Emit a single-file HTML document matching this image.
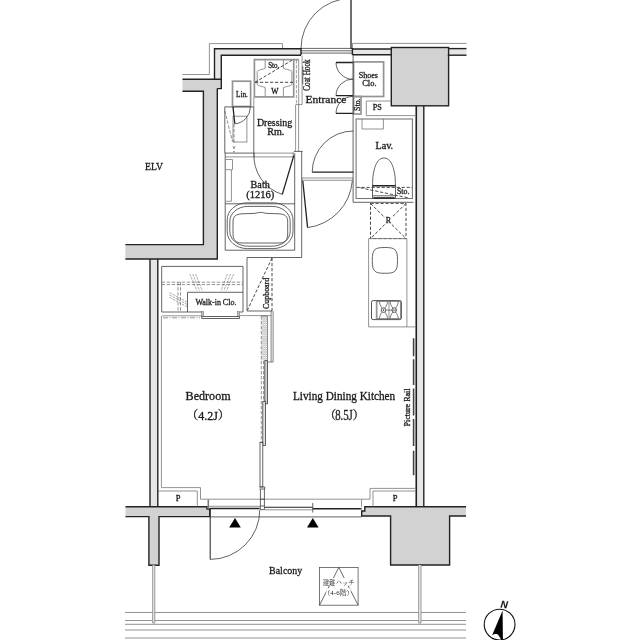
<!DOCTYPE html>
<html lang="ja">
<head>
<meta charset="utf-8">
<title>Floor Plan</title>
<style>
html,body{margin:0;padding:0;background:#fff;}
body{width:640px;height:640px;overflow:hidden;}
svg{display:block;}
svg{filter:grayscale(1);}
text{font-family:"Liberation Serif","Noto Serif CJK SC",serif;fill:#1a1a1a;stroke:#1a1a1a;stroke-width:.3;}
.t{stroke:#3c3c3c;stroke-width:.8;fill:none;}
.tg{stroke:#777;stroke-width:.8;fill:none;}
.G{stroke:#949494;stroke-width:1.7;fill:none;}
.K{stroke:#222;stroke-width:1.4;fill:none;}
.d{stroke:#333;stroke-width:.9;fill:none;stroke-dasharray:3.2 1.8;}
.d2{stroke:#666;stroke-width:.7;fill:none;stroke-dasharray:3.4 1.6;}
.w{fill:#d2d2d2;stroke:none;}
.lw{fill:#e6e6e6;stroke:none;}
</style>
</head>
<body>
<svg width="640" height="640" viewBox="0 0 640 640">
<rect width="640" height="640" fill="#fff"/>

<!-- ===== WALL FILLS ===== -->
<g id="fills">
<path class="lw" d="M214.5,48.8H301V55H221.3V79.2H214.5Z"/>
<path class="lw" d="M352.6,49H391.5V54.8H352.6Z"/>
<path class="lw" d="M447.8,48.6H466.5V55.2H447.8Z"/>
<path class="w" d="M182.5,79.2H221V88.6H217.3V259H125.4V244.6H203.4V91.2H182.5Z"/>
<rect class="w" x="391.3" y="47.5" width="57.3" height="58.3"/>
<rect class="lw" x="417.6" y="106" width="6" height="401"/>
<rect class="lw" x="150" y="259" width="7.8" height="248"/>
<path class="w" d="M125.5,506.7H207V509H209.8V516.6H159V565.3H148.9V516.6H125.5Z"/>
<path class="w" d="M364.8,506.7H466V516H449.6V565H390.6V516H361.7V511H364.8Z"/>
</g>

<!-- ===== WALL OUTLINES ===== -->
<g id="walls">
<path class="tg" d="M182.5,74.5H209.4V43.6H282.5V48.5"/>
<path class="tg" d="M352.5,48.5V43.4H466.5"/>
<path class="K" d="M182.5,79.2H221M214.5,79.2V48.8H301"/>
<path class="K" d="M301,55.2H221.3V88.6H217.3"/>
<path class="K" d="M217.3,88.6V259H125.4M125.4,244.6H203.4V91.2H182.5"/>
<path class="K" d="M352.6,49H391.5"/>
<path class="K" d="M352.6,54.8H391.5"/>
<path class="K" d="M448.6,48.6H466.5"/>
<path class="K" d="M447.8,55.2H466.5"/>
<rect class="K" x="391.3" y="47.5" width="57.3" height="58.3"/>
<path class="K" d="M416.3,106V506.7" style="stroke-width:1.7"/>
<path class="K" d="M423.8,106V506.7" style="stroke-width:1.4"/>
<path class="K" d="M150,259V506.7M157.8,259V506.7"/>
<path class="K" d="M125.5,506.7H207V509H209.8V516.6H159V565.3H148.9V516.6H125.5"/>
<path class="K" d="M466,506.7H364.8V511H361.7V516H390.6V565H449.6V516H466"/>
</g>

<!-- ===== BALCONY ===== -->
<g id="balcony">
<path class="tg" d="M125,612.5H466M125,620.5H466M125,624.3H466M125,630H466M125,638H466"/>
<path stroke="#8a8a8a" stroke-width=".9" fill="#f0f0f0" d="M152.7,565.3V623H154.8V565.3M418.7,565V623H421V565"/>
<path class="K" d="M210.2,508V559.4" style="stroke-width:1"/>
<path class="t" d="M210.2,559.4A49.6,49.6 0 0 0 259.8,509.8"/>
<path d="M229.2,527.4L235,518L240.8,527.4Z" fill="#000"/>
<path d="M307,527.4L312.8,518L318.6,527.4Z" fill="#000"/>
<text x="269.1" y="573.8" font-size="11" textLength="33.1" lengthAdjust="spacingAndGlyphs">Balcony</text>
<rect class="t" x="319.5" y="567.4" width="38.6" height="37.8" style="stroke:#555"/>
<path class="t" d="M319.5,605.2L338.8,567.4L358.1,605.2" style="stroke:#444"/>
<rect x="322" y="578" width="33.4" height="7.6" fill="#fff"/>
<rect x="326.4" y="588.4" width="24.2" height="7.6" fill="#fff"/>
<text x="322.7" y="584.7" font-size="6.5" textLength="32" lengthAdjust="spacingAndGlyphs" style="stroke-width:0;fill:#222">避難ハッチ</text>
<text x="323.4" y="594.9" font-size="6.3" textLength="30.2" lengthAdjust="spacingAndGlyphs" style="stroke-width:0;fill:#222">（4-6階）</text>
</g>

<!-- ===== WINDOW ===== -->
<g id="window">
<path class="tg" d="M200.5,499.2H362"/>
<path class="tg" d="M207.8,506.3H260"/>
<path class="K" d="M210,508.5H259.6"/>
<path class="t" d="M264.5,507.2H312.7" style="stroke:#222;stroke-width:1.1"/>
<path class="tg" d="M264.5,509.8H312.7"/>
<path class="K" d="M312.7,508.8H361.6"/>
<path class="t" d="M210,516.9H361.6"/>
<path class="tg" d="M208.3,499.5V509" style="stroke-width:1.6"/>
<path class="tg" d="M361.5,499.5V507"/>
<path class="t" d="M312.75,503V512.5"/>
</g>

<!-- ===== INTERIOR FINISH LINES ===== -->
<g id="inner">
<path class="tg" d="M161.4,316V487.6H200.5V499.2"/>
<path class="tg" d="M362,499.2H370V488.4H415"/>
<path class="tg" d="M197.3,506.7V491H158M373,506.7V491H415.6"/>
<text x="175.7" y="501.2" font-size="8.5">P</text>
<text x="392.7" y="501.2" font-size="8.5">P</text>
</g>

<!-- ===== ENTRANCE DOOR ===== -->
<g id="entrance">
<path class="K" d="M351,0V49" style="stroke-width:1.3"/>
<path class="t" d="M301,48.4A50,50 0 0 1 351,-1.6"/>
<path class="t" d="M301,48.4H352M301,50.8H352M301,53.1H352"/>
<path class="K" d="M301,48V55M352.4,48V55"/>
<text x="305.5" y="103" font-size="11" textLength="41" lengthAdjust="spacingAndGlyphs">Entrance</text>
<text transform="translate(310,90.8) rotate(-90)" font-size="9.6" textLength="31.5" lengthAdjust="spacingAndGlyphs">Coat Hook</text>
<path stroke="#666" stroke-width="1.2" fill="none" d="M302.7,66.3V84.4"/>
</g>

<!-- ===== SHOES CLO / STO / PS ===== -->
<g id="shoes">
<rect class="G" x="353.6" y="61.9" width="30" height="34.6"/>
<text x="358.7" y="77.8" font-size="8.6" textLength="19.3" lengthAdjust="spacingAndGlyphs">Shoes</text>
<text x="362.2" y="85.9" font-size="8.6" textLength="14.4" lengthAdjust="spacingAndGlyphs">Clo.</text>
<path class="t" d="M336,62.5A17,17 0 0 0 353,79.3M336,95.7A17,17 0 0 1 353,79M336,113.4A17,17 0 0 1 353,96.4"/>
<path class="K" d="M336,62.5H353M336,95.7H353M336,113.4H353" style="stroke-width:1.3"/>
<rect class="G" x="353.6" y="96.5" width="7.4" height="17.5"/>
<text transform="translate(360,111) rotate(-90)" font-size="7.6" textLength="12.6" lengthAdjust="spacingAndGlyphs">Sto.</text>
<path class="tg" d="M391.4,101H366.3V115.6H415.6"/>
<text x="372.7" y="110.3" font-size="8" textLength="9" lengthAdjust="spacingAndGlyphs">PS</text>
</g>

<!-- ===== LAV ===== -->
<g id="lav">
<path class="t" d="M353.1,55V202.3H413.4"/>
<rect class="tg" x="356.1" y="119" width="56.3" height="79.5" style="stroke-width:1.1"/>
<path class="tg" d="M362,118.8V129H383.4V118.8"/>
<text x="375.4" y="149.4" font-size="10.5" textLength="17.8" lengthAdjust="spacingAndGlyphs">Lav.</text>
<path class="t" d="M372.6,185.6C372.4,174 375,158 384,158C393,158 395.6,174 395.4,185.6"/>
<rect class="t" x="372.6" y="185.6" width="22.8" height="12.6"/>
<path class="K" d="M372.6,185.7H395.4M373.5,198H394.6"/>
<path class="t" d="M372.6,195.8H395.4"/>
<path class="d" d="M356.6,187.4H412.4M360.4,187.8L409,198"/>
<text x="397" y="194.4" font-size="7.6" textLength="12.4" lengthAdjust="spacingAndGlyphs">Sto.</text>
<path class="K" d="M312.2,172.2H353.4" style="stroke-width:1.3"/>
<path class="t" d="M312.2,172.2A41.2,41.2 0 0 1 353.4,131"/>
</g>

<!-- ===== HALL DOOR ===== -->
<g id="halldoor">
<path class="tg" d="M302.7,178H352.7M302.7,180.3H352.7"/>
<path class="K" d="M302.8,181L307.6,227.6" style="stroke-width:1.3"/>
<path class="t" d="M352.3,181A51,51 0 0 1 307.6,227.6"/>
<path class="tg" d="M302.5,177.4V181.2M352.6,177.4V181.2" style="stroke-width:.6"/>
</g>

<!-- ===== DRESSING ROOM ===== -->
<g id="dressing">
<path class="tg" d="M298.7,59.6V104.6M296,104.6H302.1V55.5"/>
<path class="tg" d="M295.6,104.6V151.4M298.6,104.6V151.4"/>
<path class="t" d="M293.8,151.4H302.7"/>
<path class="t" d="M301.7,151.4V257.5H247V311"/>
<rect class="G" x="254.4" y="59.6" width="39.3" height="37.3"/>
<path class="G" d="M293.7,59.6H298.9"/>
<path class="d2" d="M296.4,60V104" style="stroke:#777"/>
<path class="tg" d="M265.2,60V68.3C261,70 257.2,70 257.2,72V84C257.2,86 261,86 265.2,87.5V96.5M283.4,60V68.3C287.6,70 291.9,70 291.9,72V84C291.9,86 287.6,86 283.4,87.5V96.5"/>
<path class="d" d="M255,82.3H293M255,82.3L291.9,60.3"/>
<text x="268.2" y="67.8" font-size="7.6" textLength="11.2" lengthAdjust="spacingAndGlyphs">Sto.</text>
<text x="271.2" y="93.6" font-size="7.6" textLength="7.2" lengthAdjust="spacingAndGlyphs">W</text>
<rect class="G" x="232.5" y="81.2" width="18.1" height="25.3"/>
<text x="236" y="96.5" font-size="8" textLength="11.8" lengthAdjust="spacingAndGlyphs">Lin.</text>
<path class="t" d="M253.8,153V106.9H224.8V153"/>
<rect class="tg" x="233" y="116.2" width="13.9" height="25.8"/>
<path class="tg" d="M253.8,97.5V107"/>
<path class="K" d="M233,107L234.8,123.8" style="stroke-width:1.3"/>
<path class="t" d="M250.4,107A17,17 0 0 1 234.8,123.8"/>
<path class="d2" d="M224.8,110.8L232.4,141.3M234,124V143" style="stroke:#5a5a5a"/>
<path stroke="#555" stroke-width=".6" fill="none" d="M233,146L234,149L235,146M233.4,151L234,152.4L234.6,151"/>
<text x="256.9" y="125.6" font-size="10" textLength="35.4" lengthAdjust="spacingAndGlyphs">Dressing</text>
<text x="267.2" y="135.4" font-size="10" textLength="17.2" lengthAdjust="spacingAndGlyphs">Rm.</text>
</g>

<!-- ===== BATH ===== -->
<g id="bath">
<path class="t" d="M225.2,153.1V250.2H294.7V153.1"/>
<path class="t" d="M224.8,153.1H254"/>
<path class="tg" d="M225.2,156.9H294.7M254,153.1H293.4"/>
<path class="t" d="M254,152.4V157.4M293.2,152.4V157.4" style="stroke-width:.6"/>
<path class="t" d="M225.2,203.8H294.7"/>
<path class="tg" d="M225.6,159.5H232.5V169.7H231.4V201.3H225.6"/>
<path class="tg" d="M225.6,169.7H231.4"/>
<path class="t" d="M254,153.3A40.3,40.3 0 0 0 282.3,194.4"/>
<path class="K" d="M293.8,155.6L282.3,194.4" style="stroke-width:1.3"/>
<rect class="t" x="227.2" y="202.8" width="65.8" height="45.8" rx="20" ry="17"/>
<rect class="t" x="229.8" y="206.4" width="60.4" height="39.8" rx="18" ry="15"/>
<path class="t" d="M233,222C233,216 236,214.2 242,213.8L254,213.4C257,213.2 258,212.4 260.5,212.4C263,212.4 264,213.2 267,213.4L279,213.8C285,214.2 287.7,216 287.7,222V234C287.7,240 285,243 279,243H242C236,243 233,240 233,234Z"/>
<text x="250.6" y="187.7" font-size="10.5" textLength="19.2" lengthAdjust="spacingAndGlyphs">Bath</text>
<text x="246.2" y="197.5" font-size="10.5" textLength="28.2" lengthAdjust="spacingAndGlyphs">(1216)</text>
</g>

<!-- ===== CUPBOARD / WALK-IN ===== -->
<g id="wic">
<path class="t" d="M247,311H272"/>
<path class="d" d="M272,258V311M272,258L247.5,310"/>
<text transform="translate(269,309) rotate(-90)" font-size="8.3" textLength="31.2" lengthAdjust="spacingAndGlyphs">Cupboard</text>
<path class="t" d="M201.5,312H161.7V266.4H243V312H239.8"/>
<path class="d2" d="M161.7,282.2H243M161.7,284.6H243M178,282.2V312M180.5,282.2V312"/>
<path stroke="#555" fill="none" stroke-width=".5" stroke-dasharray="2.6 .9" d="M189.8,274L197,290.8M192.7,274L199.7,290.8M195.6,274L202.4,290.8M233.6,274L226.6,290.8M230.5,274L223.8,290.8M227.4,274L221,290.8M169.5,292.6L187.5,302.2M169.5,295L187.5,304.6M169.5,297.4L187.5,307"/>
<path class="t" d="M187.5,312V292.3H243"/>
<text x="195.4" y="305" font-size="8.7" textLength="41" lengthAdjust="spacingAndGlyphs">Walk-in Clo.</text>
<rect x="201.4" y="311.6" width="2" height="4.8" fill="#bbb" stroke="#666" stroke-width=".5"/>
<rect x="237.6" y="311.6" width="2" height="4.8" fill="#bbb" stroke="#666" stroke-width=".5"/>
<rect class="t" x="201.8" y="316.6" width="37.6" height="1.8" style="fill:#fff"/>
</g>

<!-- ===== BEDROOM / LDK PARTITION ===== -->
<g id="partition">
<defs><pattern id="hx" width="2.2" height="2.2" patternUnits="userSpaceOnUse"><path d="M0,0L2.2,2.2M2.2,0L0,2.2" stroke="#8a8a8a" stroke-width=".4" fill="none"/></pattern></defs>
<path class="tg" d="M162.2,315.8H201.5M239.8,315.6H271.2"/>
<path class="d2" d="M163,317.8H200" style="stroke-dasharray:5 1.5 1 1.5"/>
<path stroke="#4a4a4a" stroke-width=".7" fill="none" d="M271.1,311V362M273.1,311V362H267.5"/>
<rect x="261.6" y="316" width="5.9" height="44.6" fill="url(#hx)"/>
<path class="d2" d="M261.3,316V442"/>
<path class="tg" d="M261.3,316H267.5V360.6"/>
<path class="d2" d="M263.5,361V401"/>
<rect class="t" x="264.8" y="360.6" width="2.7" height="43.2" style="fill:#d2d2d2"/>
<rect class="t" x="262.8" y="401.3" width="2.8" height="44.3" style="fill:#e2e2e2"/>
<rect class="t" x="260" y="442.5" width="2.8" height="44.4" style="fill:#fff"/>
<path class="t" d="M259.6,487H264.8V489H259.6M260.4,489V509.6M264.4,489V509.6M260.4,506H264.4M260.4,509.6H264.4M260.4,499.2H264.4"/>
</g>

<!-- ===== KITCHEN ===== -->
<g id="kitchen">
<rect class="d" x="370.5" y="203.4" width="35.5" height="35.2"/>
<path class="d" d="M370.5,203.4L406,238.6M406,203.4L370.5,238.6"/>
<rect x="384.8" y="217" width="7" height="7.4" fill="#fff"/>
<text x="385.7" y="223.4" font-size="8" textLength="5.3" lengthAdjust="spacingAndGlyphs">R</text>
<path class="tg" d="M368.6,238.6V326.9H415.6M406.9,238.6V326.9M368.6,238.6H406.9"/>
<path class="t" d="M372.3,260.4C372.3,249.3 374.5,247.5 384.9,247.5C395.3,247.5 397.5,249.3 397.5,260.4C397.5,271.5 395.3,273.3 384.9,273.3C374.5,273.3 372.3,271.5 372.3,260.4Z"/>
<rect stroke="#4a4a4a" stroke-width=".95" fill="none" x="371.5" y="300.6" width="29.9" height="19" rx="1.6"/>
<rect stroke="#666" stroke-width=".7" fill="none" x="377" y="301.6" width="23.5" height="16.9"/>
<path class="tg" d="M376.3,301V319M389,301.6V318.5"/>
<path stroke="#444" stroke-width=".7" fill="none" d="M379.3,301.8C380,306 382.3,308 383.5,310.1C382.3,312.2 380,314 379.3,318.4M387.7,301.8C387,306 384.7,308 383.5,310.1C384.7,312.2 387,314 387.7,318.4M390,301.8C390.7,306 393,308 394.2,310.1C393,312.2 390.7,314 390,318.4M398.4,301.8C397.7,306 395.4,308 394.2,310.1C395.4,312.2 397.7,314 398.4,318.4M386,310.1H391.8"/>
<circle cx="383.5" cy="310.1" r="2.3" fill="#fff" stroke="#333" stroke-width=".8"/>
<circle cx="394.2" cy="310.1" r="2.3" fill="#fff" stroke="#333" stroke-width=".8"/>
<circle cx="383.5" cy="310.1" r=".8" fill="#333"/>
<path stroke="#333" stroke-width=".8" d="M392.4,310.1H396"/>
<path stroke="#444" stroke-width="1.6" fill="none" d="M413.6,338.2V356.2M413.6,359.3V385M413.6,388.6V415.5M413.6,419V446M413.6,450.7V475.3"/>
<text transform="translate(409.9,426.5) rotate(-90)" font-size="8.3" textLength="38" lengthAdjust="spacingAndGlyphs">Picture Rail</text>
</g>

<!-- ===== ROOM LABELS ===== -->
<g id="labels">
<text x="145" y="169.6" font-size="10.5" textLength="18" lengthAdjust="spacingAndGlyphs">ELV</text>
<text x="185.6" y="399.8" font-size="12" textLength="45" lengthAdjust="spacingAndGlyphs">Bedroom</text>
<text x="186.2" y="420.1" font-size="12">（4.2J）</text>
<text x="293" y="399.7" font-size="12" textLength="102.2" lengthAdjust="spacingAndGlyphs">Living Dining Kitchen</text>
<text x="324.3" y="420.3" font-size="12">（</text><text x="335.2" y="420.3" font-size="13.8" textLength="17.6" lengthAdjust="spacingAndGlyphs">8.5J</text><text x="352.5" y="420.3" font-size="12">）</text>
</g>

<!-- ===== COMPASS ===== -->
<g id="compass">
<circle cx="499.6" cy="624.6" r="15.4" fill="#fff" stroke="#111" stroke-width="1.1"/>
<path d="M502.6,610.6L492,635.5C494.5,633.4 497.5,633.6 498.5,635.2L501.4,640H502.9Z" fill="#000"/>
<text transform="translate(500.2,607.6) rotate(6)" font-size="10" font-weight="bold" font-style="italic" style="font-family:'Liberation Sans',sans-serif;stroke-width:.1" fill="#000">N</text>
</g>
</svg>
</body>
</html>
